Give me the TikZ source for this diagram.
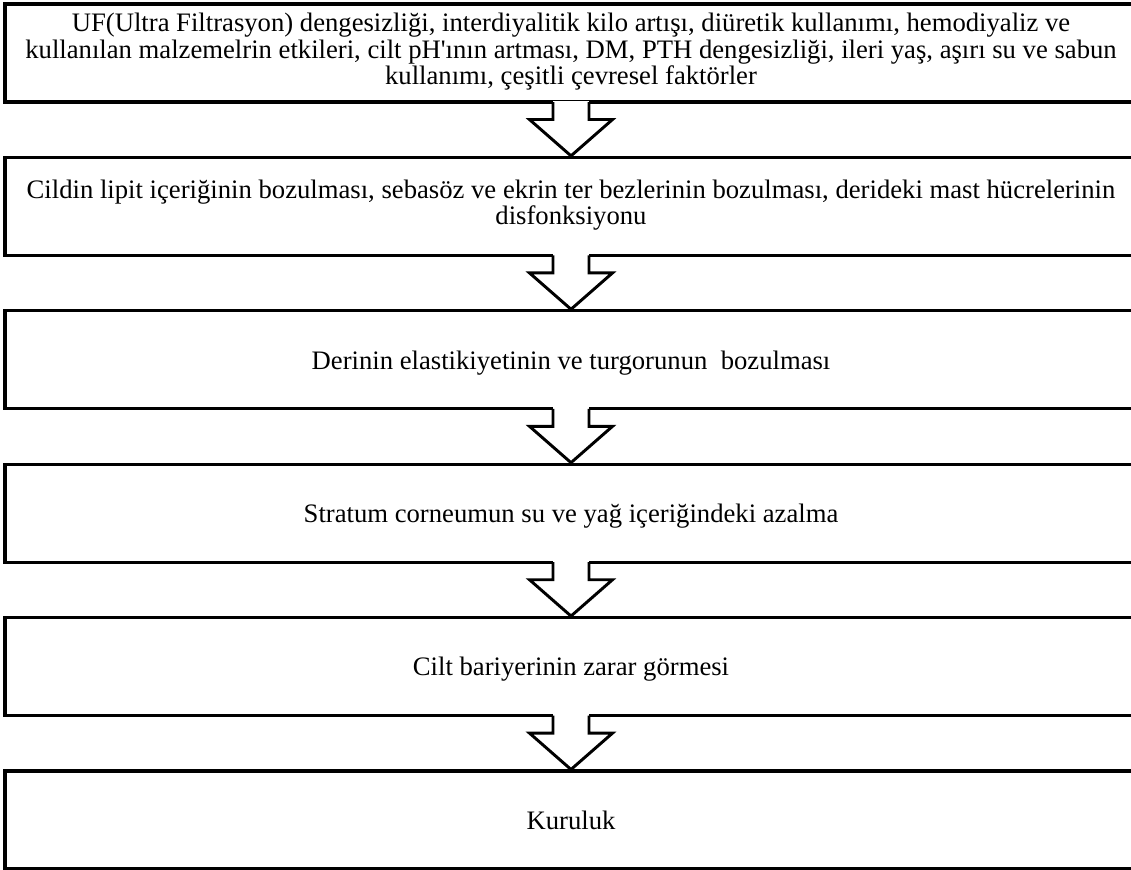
\documentclass[tikz,border=0pt]{standalone}
\usepackage{fontspec}
\newfontfamily\boxfont{Liberation Serif}
\usepackage{tikz}
\usetikzlibrary{calc}

\tikzset{
  stepbox/.style={draw,line width=2.3pt,rectangle,minimum width=849pt,minimum height=73.5pt,
    align=center,inner sep=0pt,font=\boxfont\fontsize{20pt}{20pt}\selectfont,
    execute at begin node={\rule{0pt}{20pt}},execute at end node={\rule[-6pt]{0pt}{0pt}}},
  blockarrow/.style={draw,line width=2.2pt,line join=miter,fill=white}
}
\newcommand{\flowarrow}[2]{%
  \fill[white] ($(#1.south)+(-18,-3)$) rectangle ($(#1.south)+(18,3)$);
  \draw[blockarrow] ($(#1.south)+(-18,-1.5)$) -- ++(0,17.5) -- ++(-23.5,0) -- (#2.north)
    -- ($(#1.south)+(41.5,16)$) -- ++(-23.5,0) -- ++(0,-17.5);
}

\begin{document}
\begin{tikzpicture}[x=0.75pt,y=-0.75pt]
\useasboundingbox (0,0) rectangle (1131,870);
\clip (0,0) rectangle (1131,870);
\node[stepbox] (uf) at (571,53) {UF(Ultra Filtrasyon) dengesizliği, interdiyalitik kilo artışı, diüretik kullanımı, hemodiyaliz ve\\kullanılan malzemelrin etkileri, cilt pH'ının artması, DM, PTH dengesizliği, ileri yaş, aşırı su ve sabun\\kullanımı, çeşitli çevresel faktörler};
\node[stepbox] (lipit) at (571,206.4) {Cildin lipit içeriğinin bozulması, sebasöz ve ekrin ter bezlerinin bozulması, derideki mast hücrelerinin\\disfonksiyonu};
\node[stepbox] (elastik) at (571,359.8) {Derinin elastikiyetinin ve turgorunun\ \ bozulması};
\node[stepbox] (stratum) at (571,513.2) {Stratum corneumun su ve yağ içeriğindeki azalma};
\node[stepbox] (bariyer) at (571,666.6) {Cilt bariyerinin zarar görmesi};
\node[stepbox] (kuruluk) at (571,820) {Kuruluk};
\flowarrow{uf}{lipit}
\flowarrow{lipit}{elastik}
\flowarrow{elastik}{stratum}
\flowarrow{stratum}{bariyer}
\flowarrow{bariyer}{kuruluk}
\end{tikzpicture}
\end{document}
